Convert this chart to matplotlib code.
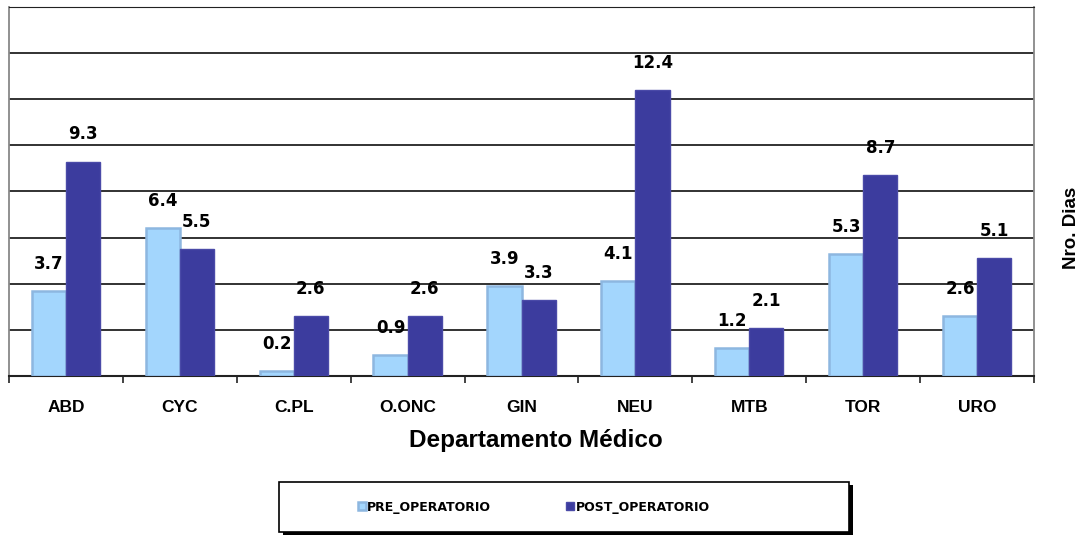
import numpy as np
import matplotlib
matplotlib.use('Agg')
import matplotlib.pyplot as plt
from matplotlib.patches import Rectangle

# Datos
departamentos = ['ABD', 'CYC', 'C.PL', 'O.ONC', 'GIN', 'NEU', 'MTB', 'TOR', 'URO']
pre_operatorio = [3.7, 6.4, 0.2, 0.9, 3.9, 4.1, 1.2, 5.3, 2.6]
post_operatorio = [9.3, 5.5, 2.6, 2.6, 3.3, 12.4, 2.1, 8.7, 5.1]

c_pre = '#A3D6FD'
c_post = '#3C3C9E'

fig = plt.figure(figsize=(10.83, 5.37), dpi=100)
ax = fig.add_axes([0.0083, 0.2998, 0.9465, 0.6872])

x = np.arange(len(departamentos))
w = 0.3
b1 = ax.bar(x - w / 2, pre_operatorio, w, color=c_pre, edgecolor='#8DB7E0',
            linewidth=1.8, zorder=3, label='PRE_OPERATORIO')
b2 = ax.bar(x + w / 2, post_operatorio, w, color=c_post, edgecolor='#4A4AA8',
            linewidth=1.0, zorder=3, label='POST_OPERATORIO')

for bars, vals in ((b1, pre_operatorio), (b2, post_operatorio)):
    for r, v in zip(bars, vals):
        ax.annotate(f'{v:.1f}', (r.get_x() + r.get_width() / 2, v),
                    xytext=(0, 13), textcoords='offset points',
                    ha='center', va='bottom', fontsize=12,
                    fontweight='bold', family='DejaVu Sans')

ax.set_xlim(-0.5, len(departamentos) - 0.5)
ax.set_ylim(0, 16)
ax.set_yticks(np.arange(0, 17, 2))
ax.yaxis.grid(True, color='#222222', linewidth=1.3, zorder=0)
ax.tick_params(axis='y', left=False, labelleft=False)

ax.set_xticks(x)
ax.set_xticklabels(departamentos, fontsize=12.5, fontweight='bold',
                   family='Liberation Sans')
ax.tick_params(axis='x', which='major', length=0, pad=17)
ax.set_xticks(np.arange(-0.5, len(departamentos)), minor=True)
ax.tick_params(axis='x', which='minor', length=5, width=1.2, color='#222222')

for s in ('left', 'right'):
    ax.spines[s].set_color('#888888')
    ax.spines[s].set_linewidth(1.3)
ax.spines['top'].set_color('#222222')
ax.spines['bottom'].set_color('#222222')
ax.spines['bottom'].set_linewidth(1.5)

fig.text(536 / 1083, 1 - 440 / 537, 'Departamento Médico', ha='center',
         va='center', fontsize=17.5, fontweight='bold', family='Liberation Sans')
fig.text(1071 / 1083, 1 - 228 / 537, 'Nro. Dias', ha='center', va='center',
         rotation=90, fontsize=13.5, fontweight='bold', family='Liberation Sans')

# Caja de leyenda con sombra
W, H = 1083, 537
fig.patches.append(Rectangle((283 / W, 1 - 535 / H), 570 / W, 50 / H,
                             transform=fig.transFigure, facecolor='black',
                             edgecolor='none', zorder=1))
fig.patches.append(Rectangle((279 / W, 1 - 532 / H), 570 / W, 50 / H,
                             transform=fig.transFigure, facecolor='white',
                             edgecolor='black', linewidth=1.2, zorder=2))
leg = fig.legend(handles=[b1, b2], loc='center left', ncol=2,
                 bbox_to_anchor=(358 / W, 1 - 507 / H), frameon=False,
                 borderaxespad=0, borderpad=0,
                 prop={'family': 'DejaVu Sans', 'weight': 'bold', 'size': 9},
                 handlelength=0.6, handleheight=0.6, handletextpad=0.15,
                 columnspacing=6.0)
leg.set_zorder(5)

fig.savefig('out.png', dpi=100)
